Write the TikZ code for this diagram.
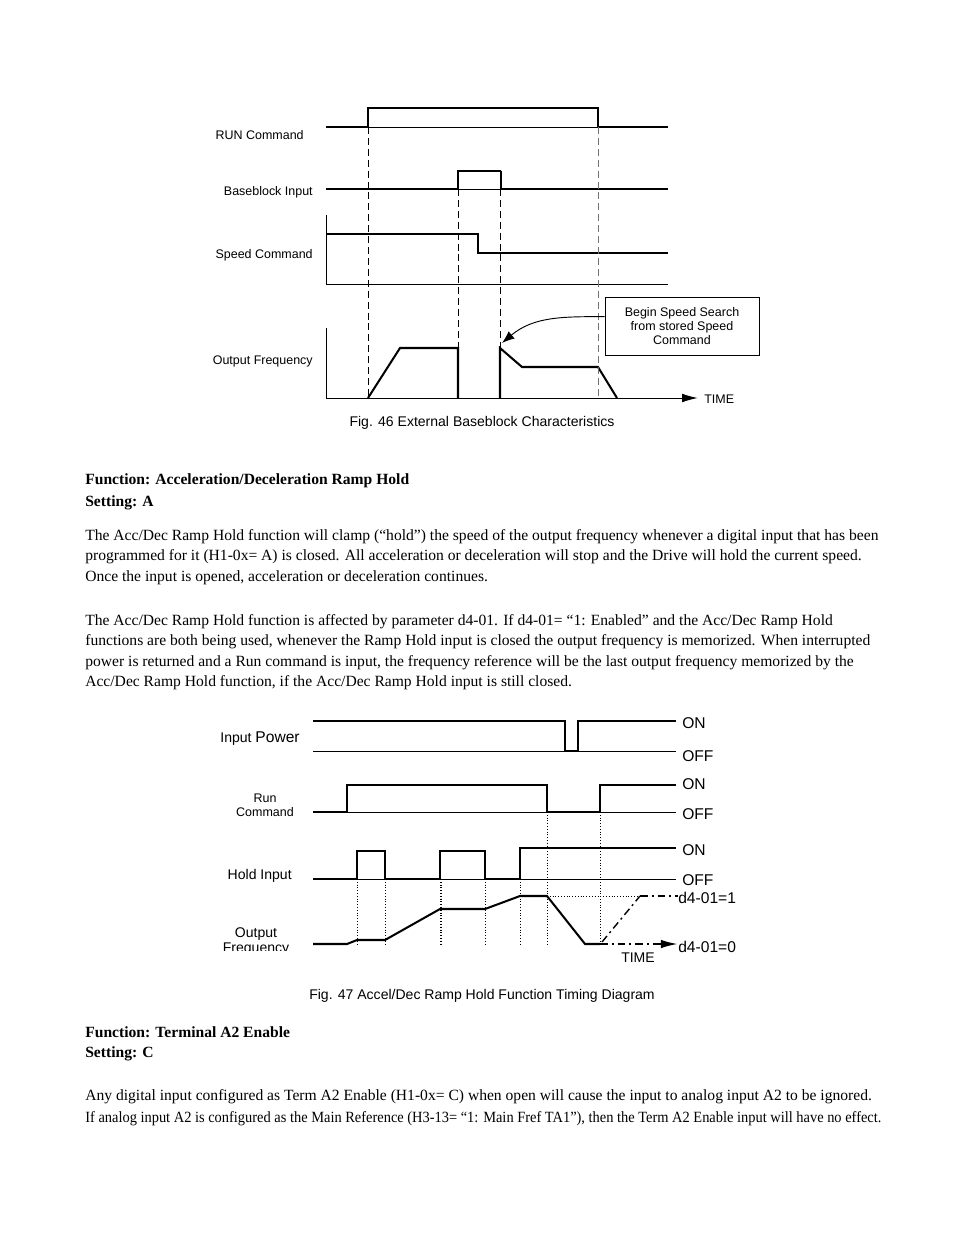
\documentclass[tikz,border=0pt]{standalone}
\usepackage{graphicx}
\usepackage{fontspec}
\setmainfont{Liberation Serif}
\setsansfont{Liberation Sans}
\usetikzlibrary{arrows.meta}

\begin{document}
\begin{tikzpicture}[
    x=0.6414pt, y=-0.6414pt,
    sig/.style      = {line width=1.3pt},
    sigthin/.style  = {line width=0.75pt},
    baseln/.style   = {line width=0.6pt},
    guide/.style    = {line width=0.6pt, dash pattern=on 4.5pt off 2.5pt},
    dotguide/.style = {line width=0.6pt, dash pattern=on 0.6pt off 1.2pt},
    dashdot/.style  = {line width=1.3pt, dash pattern=on 5pt off 2.5pt on 1.3pt off 2.5pt},
    siglbl/.style   = {font=\sffamily\fontsize{8}{9}\selectfont, anchor=east, inner sep=0pt, yshift=-1.2pt},
    bigLbl/.style   = {font=\sffamily\fontsize{9}{10}\selectfont, anchor=east, inner sep=0pt, yshift=-1.2pt},
    state/.style    = {font=\sffamily\fontsize{10}{11}\selectfont, anchor=west, inner sep=0pt, yshift=-1.2pt},
    caption/.style  = {font=\sffamily\fontsize{9}{10}\selectfont, inner sep=0pt, yshift=-1.2pt},
    callout/.style  = {draw, line width=0.6pt, font=\sffamily\fontsize{8}{9}\selectfont, align=center,
                       minimum width=98.8pt, minimum height=37.2pt, inner sep=0pt},
    body/.style     = {font=\fontsize{10}{12}\selectfont, anchor=west, inner sep=0pt,
                       text height=7pt, text depth=2pt, yshift=-1.2pt},
    head/.style     = {body, font=\fontsize{10}{12}\selectfont\bfseries}
  ]
  \useasboundingbox (0,0) rectangle (954,1235);
  \fill[white] (0,0) rectangle (954,1235);

  % Fig. 46
  \draw[sig] (326,127) -- (368,127) -- (368,108) -- (598,108) -- (598,127) -- (668,127);
  \draw[baseln] (368,127) -- (598,127);
  \node[siglbl] (runCmd) at (304,133) {RUN Command};

  \draw[sig] (326,189) -- (458,189);
  \draw[sigthin] (458,189) -- (458,171) -- (501,171);
  \draw[sig] (501,171) -- (501,189) -- (668,189);
  \draw[baseln] (458,189) -- (501,189);
  \node[siglbl] (bbIn) at (313,190) {Baseblock Input};

  \draw[baseln] (326,215) -- (326,284) -- (668,284);
  \draw[sigthin] (326,234) -- (478,234) -- (478,253) -- (668,253);
  \node[siglbl] (spdCmd) at (313,253) {Speed Command};

  \node[siglbl, anchor=west] (timeA) at (704,397) {TIME};
  \draw[baseln, -{Latex[length=10pt,width=5.5pt]}, shorten >=4pt] (326,328) -- (326,398) -- (timeA.west |- 0,398);
  \draw[sig] (368,398) -- (400,348) -- (458,348) -- (458,398);
  \draw[sig] (500,398) -- (500,348) -- (522,367) -- (598,367) -- (617,398);
  \node[siglbl] (outFrq) at (313,360) {Output Frequency};

  \foreach \x/\y in {368/127, 458/189, 500/189}
    \draw[guide] (\x,\y) -- (\x,398);
  \draw[guide, black!55] (598,127) -- (598,398);

  \node[callout] (search) at (682,326) {Begin Speed Search\\from stored Speed\\Command};
  \coordinate (searchTip) at (502,343);
  \draw[baseln, -{Latex[length=8pt,width=6pt]}] ([yshift=6pt]search.west) to[out=180,in=40] (searchTip);

  \node[caption] (capA) at (482,421) {Fig. 46 External Baseblock Characteristics};

  % text
  \node[head] (headA) at (85,479) {Function: Acceleration/Deceleration Ramp Hold};
  \node[head] (setA) at (85,501) {Setting: A};
  \foreach \y/\t [count=\i] in {
      535/{The Acc/Dec Ramp Hold function will clamp (“hold”) the speed of the output frequency whenever a digital input that has been},
      555/{programmed for it (H1-0x= A) is closed. All acceleration or deceleration will stop and the Drive will hold the current speed.},
      576/{Once the input is opened, acceleration or deceleration continues.},
      620/{The Acc/Dec Ramp Hold function is affected by parameter d4-01. If d4-01= “1: Enabled” and the Acc/Dec Ramp Hold},
      640/{functions are both being used, whenever the Ramp Hold input is closed the output frequency is memorized. When interrupted},
      661/{power is returned and a Run command is input, the frequency reference will be the last output frequency memorized by the},
      681/{Acc/Dec Ramp Hold function, if the Acc/Dec Ramp Hold input is still closed.}}
    \node[body] (lineA\i) at (85,\y) {\t};

  % Fig. 47
  \draw[sig] (313,721) -- (565,721) -- (565,751) -- (578,751) -- (578,721) -- (676,721);
  \draw[baseln] (313,751) -- (676,751);
  \node[bigLbl] (inPwr) at (300,737) {Input {\fontsize{10}{11}\selectfont Power}};

  \draw[sig] (313,812) -- (347,812) -- (347,785) -- (547,785) -- (547,812) -- (600,812) -- (600,785) -- (676,785);
  \draw[baseln] (313,812) -- (676,812);
  \node[siglbl, anchor=center, align=center] (runB) at (265,803) {Run\\Command};

  \draw[sig] (313,879) -- (357,879) -- (357,851) -- (385,851) -- (385,879) -- (440,879) -- (440,851)
    -- (485,851) -- (485,879) -- (520,879) -- (520,848) -- (676,848);
  \draw[baseln] (313,879) -- (676,879);
  \node[bigLbl] (holdIn) at (292,874) {Hold Input};

  \foreach \x/\y in {357/879, 385/879, 440/879, 485/879, 520/879, 547/812, 600/812}
    \draw[dotguide] (\x,\y) -- (\x,944);
  \draw[dotguide] (441,879) -- (441,944);

  \draw[sig] (313,944) -- (347,944) -- (357,940) -- (385,940) -- (440,909) -- (485,909) -- (520,896)
    -- (547,896) -- (585,944) -- (600,944);
  \begin{scope}
    \clip (200,915) rectangle (310,950.5);
    \node[bigLbl, anchor=center, align=center] (outB) at (256,939.5) {Output\\Frequency};
  \end{scope}

  \foreach \y/\t [count=\i] in {721/ON, 754/OFF, 782/ON, 812/OFF, 848/ON, 878/OFF}
    \node[state] (lvl\i) at (682,\y) {\t};
  \node[state] (dOne) at (678,896) {d4-01=1};
  \node[state] (dZero) at (678,945) {d4-01=0};
  \node[bigLbl, anchor=center] (timeB) at (638,956) {TIME};

  \coordinate (holdKnee) at (640,896);
  \draw[dotguide] (547,896) -- (holdKnee);
  \draw[dashdot, line width=0.9pt] (602,942) -- (holdKnee);
  \draw[dashdot] (holdKnee) -- (dOne.west |- holdKnee);
  \draw[dashdot, -{Latex[length=11pt,width=5.5pt]}] (600,944) -- (dZero.west |- 0,944);

  \node[caption] (capB) at (482,994) {Fig. 47 Accel/Dec Ramp Hold Function Timing Diagram};

  \node[head] (headB) at (85,1032) {Function: Terminal A2 Enable};
  \node[head] (setB) at (85,1052) {Setting: C};
  \node[body] (lineB1) at (85,1095) {Any digital input configured as Term A2 Enable (H1-0x= C) when open will cause the input to analog input A2 to be ignored.};
  \node[body] (lineB2) at (85,1117) {\resizebox{510.6pt}{\height}{If analog input A2 is configured as the Main Reference (H3-13= “1: Main Fref TA1”), then the Term A2 Enable input will have no effect.}};
\end{tikzpicture}
\end{document}
